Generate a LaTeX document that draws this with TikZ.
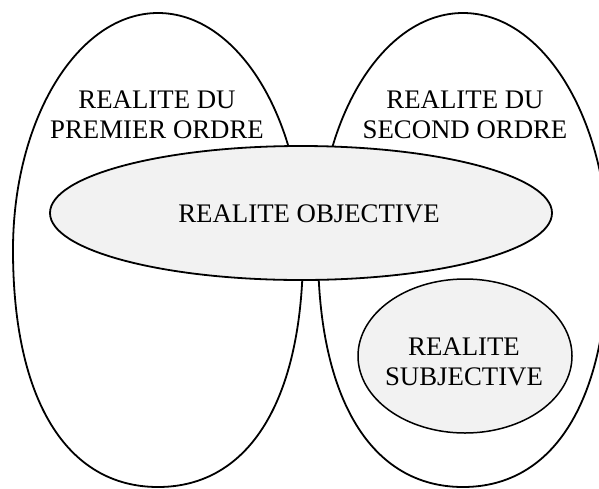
\documentclass[tikz,border=0pt]{standalone}
\usepackage{fontspec}
\setmainfont{Liberation Serif}
\usetikzlibrary{shapes.geometric}
\definecolor{fillgray}{HTML}{F2F2F2}
\begin{document}
\begin{tikzpicture}[x=1pt,y=-1pt,
  outline/.style={ellipse, draw, line width=1.8pt, inner sep=0pt},
  eggline/.style={draw, line width=1.8pt},
  lbl/.style={font=\fontsize{26.8}{30}\selectfont, align=center, inner sep=0pt}]
\useasboundingbox (0,0) rectangle (599,488);
\clip (0,0) rectangle (599,488);
% first order reality (egg shape, fuller at the bottom)
\draw[eggline, shift={(158,0)}] (0,13) .. controls (-80.1,13) and (-145,119.1) .. (-145,250)
  .. controls (-145,399.9) and (-91.4,487) .. (0,487)
  .. controls (91.4,487) and (145,399.9) .. (145,250)
  .. controls (145,119.1) and (80.1,13) .. (0,13) -- cycle;
\coordinate (first) at (158,250);
% second order reality
\draw[eggline, shift={(463,0)}] (0,13) .. controls (-80.1,13) and (-145,119.1) .. (-145,250)
  .. controls (-145,399.9) and (-91.4,487) .. (0,487)
  .. controls (91.4,487) and (145,399.9) .. (145,250)
  .. controls (145,119.1) and (80.1,13) .. (0,13) -- cycle;
\coordinate (second) at (463,250);
\node[outline, fill=fillgray, minimum width=502pt, minimum height=134pt] (objective) at (301,213) {};
\node[lbl] (objtext) at (309,213.5) {REALITE OBJECTIVE};
\node[outline, line width=1.5pt, fill=fillgray, minimum width=214pt, minimum height=154pt] (subjective) at (465,356) {};
\node[lbl] (subjtext) at (464,362) {REALITE\\SUBJECTIVE};
\node[lbl] (firsttext) at (157,114.5) {REALITE DU\\PREMIER ORDRE};
\node[lbl] (secondtext) at (465,114.5) {REALITE DU\\SECOND ORDRE};
\end{tikzpicture}
\end{document}
